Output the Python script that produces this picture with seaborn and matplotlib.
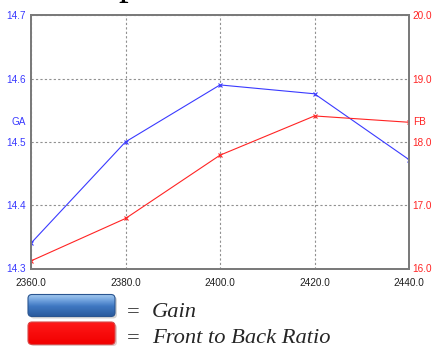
import numpy as np
import pandas as pd
import matplotlib
matplotlib.use("Agg")
import matplotlib.pyplot as plt
import seaborn as sns
from matplotlib.patches import FancyBboxPatch

# Frequency sweep (MHz)
freq = [2360.0, 2380.0, 2400.0, 2420.0, 2440.0]
# Gain (left axis)
gain = [14.34, 14.50, 14.59, 14.576, 14.472]
# Front to back ratio (right axis)
fb = [16.12, 16.79, 17.79, 18.41, 18.31]

x_ticks = [2360.0, 2380.0, 2400.0, 2420.0, 2440.0]
ga_ticks = [14.3, 14.4, 14.5, 14.6, 14.7]
fb_ticks = [16.0, 17.0, 18.0, 19.0, 20.0]

df = pd.DataFrame({"freq": freq, "gain": gain, "fb": fb})

sns.set_theme(style="white")
plt.rcParams["font.family"] = ["Liberation Sans", "DejaVu Sans"]

W, H = 433, 347
fig = plt.figure(figsize=(W / 100, H / 100), dpi=100)
ax = fig.add_axes([31 / W, 1 - 268.5 / H, 378 / W, 253.2 / H])

blue = "#3a3aff"
red = "#ff2424"
tick_fs = 7.2

sns.lineplot(data=df, x="freq", y="gain", ax=ax, color=blue, linewidth=0.8,
             marker="x", markersize=3.5, markeredgewidth=0.8, markeredgecolor=blue)
ax.set_xlim(2360, 2440)
ax.set_ylim(14.3, 14.7)
ax.set_xticks(x_ticks)
ax.set_xticklabels([f"{v:.1f}" for v in x_ticks], fontsize=tick_fs, color="#202020")
ax.set_yticks(ga_ticks)
ax.set_yticklabels([f"{v:.1f}" for v in ga_ticks], fontsize=tick_fs, color=blue)
ax.set_xlabel("")
ax.set_ylabel("")
ax.tick_params(axis="x", length=0, pad=7)
ax.tick_params(axis="y", length=0, pad=3.6)
ax.grid(True, linestyle=(0, (2, 2)), color="#909090", linewidth=0.8)

ax2 = ax.twinx()
sns.lineplot(data=df, x="freq", y="fb", ax=ax2, color=red, linewidth=0.8,
             marker="x", markersize=3.5, markeredgewidth=0.8, markeredgecolor=red)
ax2.set_ylim(16.0, 20.0)
ax2.set_yticks(fb_ticks)
ax2.set_yticklabels([f"{v:.1f}" for v in fb_ticks], fontsize=tick_fs, color=red)
ax2.set_ylabel("")
ax2.tick_params(axis="y", length=0, pad=2.7)
ax2.grid(False)

for a in (ax, ax2):
    for s in a.spines.values():
        s.set_color("#7a7a7a")
        s.set_linewidth(1.3)

fig.text(18.5 / W, 1 - 122 / H, "GA", color=blue, fontsize=tick_fs, ha="center", va="center")
fig.text(419.5 / W, 1 - 122 / H, "FB", color=red, fontsize=tick_fs, ha="center", va="center")

# Heading above the chart, only its lowest strokes fall inside the canvas
fig.text(128 / W, 1 + 6 / H, "p", fontsize=28, family="Liberation Serif",
         ha="center", va="baseline", color="black")

# Legend drawn as rounded colour bars with italic captions
lax = fig.add_axes([0, 0, 1, 1], zorder=5)
lax.set_xlim(0, W)
lax.set_ylim(H, 0)
lax.axis("off")


def bar(x0, y0, w, h, stops, edge):
    patch = FancyBboxPatch((x0, y0), w, h, boxstyle="round,pad=0,rounding_size=4",
                           facecolor="none", edgecolor=edge, linewidth=0.8, zorder=3)
    lax.add_patch(patch)
    pos = np.array([p for p, _ in stops])
    cols = np.array([matplotlib.colors.to_rgb(c) for _, c in stops])
    t = np.linspace(0, 1, 96)
    img = np.stack([np.interp(t, pos, cols[:, k]) for k in range(3)], axis=-1)
    img = np.repeat(img[:, None, :], 2, axis=1)
    im = lax.imshow(img, extent=(x0, x0 + w, y0 + h, y0), aspect="auto", zorder=2)
    im.set_clip_path(patch)


# soft shadows
lax.add_patch(FancyBboxPatch((30, 296.5), 87, 22, boxstyle="round,pad=0,rounding_size=4",
                             facecolor="#d4d4d4", edgecolor="none", zorder=1))
lax.add_patch(FancyBboxPatch((30, 324), 87, 22, boxstyle="round,pad=0,rounding_size=4",
                             facecolor="#e2cccc", edgecolor="none", zorder=1))
bar(28, 294.5, 87, 22,
    [(0.0, "#a8cdf2"), (0.3, "#6d9fdc"), (0.55, "#3f78c2"), (1.0, "#2b5c9e")], "#2a5590")
bar(28, 322, 87, 22.5, [(0.0, "#ff1a1a"), (1.0, "#f20000")], "#d84848")

cap_fs = 16.2
lax.text(127, 317, "=", fontsize=cap_fs, family="Liberation Serif", ha="left", va="baseline")
lax.text(152, 317, "Gain", fontsize=cap_fs, family="Liberation Serif", style="italic",
         ha="left", va="baseline")
lax.text(127, 343, "=", fontsize=cap_fs, family="Liberation Serif", ha="left", va="baseline")
lax.text(152, 343, "Front to Back Ratio", fontsize=cap_fs, family="Liberation Serif",
         style="italic", ha="left", va="baseline")

fig.savefig("out.png", dpi=100)
